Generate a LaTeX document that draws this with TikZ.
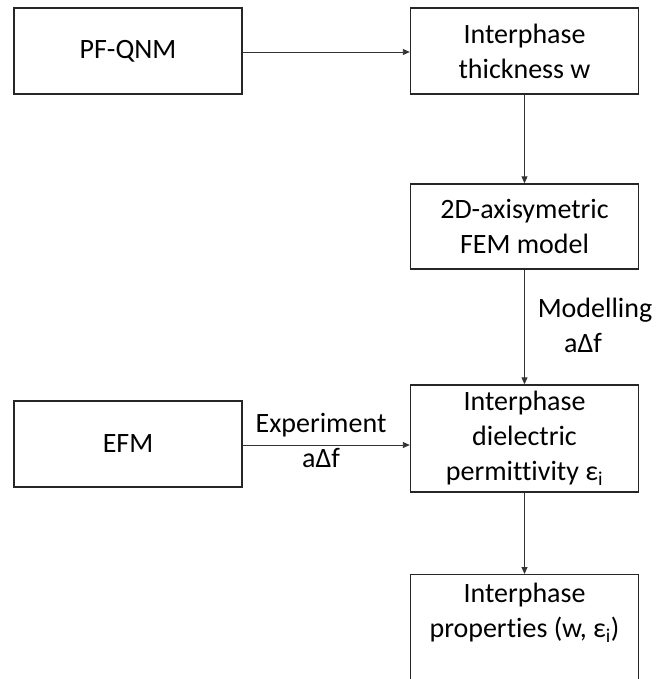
\documentclass[tikz,border=0pt]{standalone}
\usepackage{fontspec}
\setmainfont{Carlito}[Ligatures={NoCommon}]
\usetikzlibrary{arrows.meta}
\begin{document}
\begin{tikzpicture}[x=1pt,y=-1pt,
  box/.style={draw=black!85,line width=1.4pt,minimum width=228pt,minimum height=86pt,inner sep=0pt,align=center,
    font=\fontsize{28}{35}\selectfont},
  lbl/.style={align=center,inner sep=0pt,font=\fontsize{28}{35}\selectfont},
  arr/.style={draw=black!80,line width=0.9pt,-{Triangle[length=7pt,width=6pt]}}]
\clip (0,0) rectangle (658,679);
\fill[white] (0,0) rectangle (658,679);
\node[box] (pf) at (128,51) {PF-QNM};
\node[box] (thick) at (524.5,51) {Interphase\\thickness w};
\node[box,minimum height=85pt] (fem) at (524.5,226.5) {2D-axisymetric\\FEM model};
\node[box,minimum height=107pt] (perm) at (524.5,438.5) {Interphase\\dielectric\\permittivity ε\textsubscript{i}};
\node[box] (efm) at (128,444) {EFM};
\node[box,anchor=north,minimum height=160pt,text depth=0pt] (props) at (524.5,574)
  {\rule{0pt}{28pt}Interphase\\properties (w, ε\textsubscript{i})\\[70pt]\mbox{}};
\node[lbl] (mod) at (595,325) {Modelling\\aΔf\hspace*{24pt}};
\node[lbl] (exp) at (321,440) {Experiment\\aΔf};
\draw[arr] (pf.east |- 0,52) -- (thick.west |- 0,52);
\draw[arr] (thick.south) -- (fem.north);
\draw[arr] (fem.south) -- (perm.north);
\draw[arr] (efm.east |- 0,445) -- (perm.west |- 0,445);
\draw[arr] (perm.south) -- (props.north);
\end{tikzpicture}
\end{document}
